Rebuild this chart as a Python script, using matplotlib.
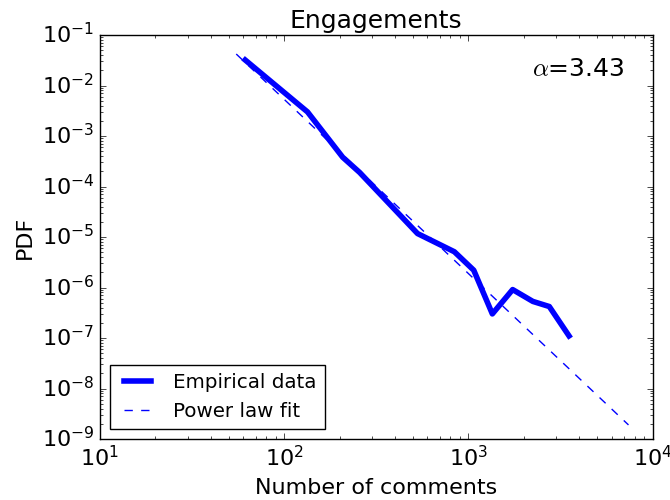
import matplotlib
matplotlib.use('Agg')
import matplotlib.pyplot as plt

# empirical distribution
emp_x = [61.5, 134, 208, 257, 530, 840, 1070, 1350, 1740, 2240, 2750, 3520]
emp_y = [3.2e-2, 3.0e-3, 3.8e-4, 1.9e-4, 1.17e-5, 5.1e-6, 2.2e-6, 3.0e-7, 9.1e-7, 5.3e-7, 4.2e-7, 1.1e-7]

# power law fit end points
fit_x = [55, 7400]
fit_y = [4.2e-2, 1.9e-9]
alpha = 3.43

plt.style.use('classic')
plt.rcParams['figure.facecolor'] = 'white'
plt.rcParams['savefig.facecolor'] = 'white'

fig = plt.figure(figsize=(6.7, 5.0), dpi=100)
ax = fig.add_axes([0.149, 0.122, 0.825, 0.808])

ax.loglog(emp_x, emp_y, 'b-', lw=4, label='Empirical data')
ax.loglog(fit_x, fit_y, 'b--', lw=1, label='Power law fit')

ax.set_xlim(10, 1e4)
ax.set_ylim(1e-9, 1e-1)
ax.set_xlabel('Number of comments', fontsize=16, labelpad=6)
ax.set_ylabel('PDF', fontsize=16)
ax.set_title('Engagements', fontsize=18)
ax.tick_params(labelsize=16)
ax.text(0.95, 0.945, r'$\alpha$=%.2f' % alpha, transform=ax.transAxes,
        ha='right', va='top', fontsize=18)
ax.legend(loc='lower left', fontsize=14.3)

fig.savefig('out.png', dpi=100)
